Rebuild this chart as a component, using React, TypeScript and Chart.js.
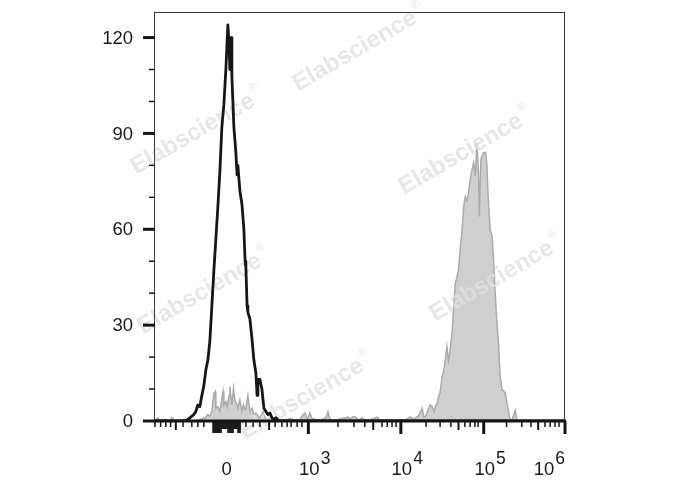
import React, { useEffect, useRef } from "react";
import { Chart, registerables } from "chart.js";

Chart.register(...registerables);

// Histogram of the unstained / control sample (black line): display channel -> event count
const controlChannels = [
  0, 77, 82, 87, 92, 97, 102, 107, 112, 117,
  122, 127, 132, 137, 142, 147, 152, 157, 162, 167,
  172, 177, 182, 185, 187, 190, 192, 197, 202, 205,
  207, 212, 217, 222, 225, 227, 230, 232, 237, 242,
  247, 252, 255, 257, 262, 267, 272, 277, 282, 287,
  292, 297, 302, 307, 312, 1024,
];
const controlCounts = [
  0, 0, 0.5, 1, 1.5, 2, 3, 5, 4.5, 8,
  11, 16, 19, 25, 36, 47, 57, 67, 78, 92,
  99, 110, 124, 118, 110, 120, 108, 92, 84, 77,
  80, 72, 68, 60, 50, 48, 36, 34, 32, 26,
  19, 15, 8, 13, 13, 10, 4, 3, 2, 2.5,
  1, 0.5, 1, 0.3, 0, 0,
];

// Histogram of the stained sample (grey filled): display channel -> event count
const stainedChannels = [
  0, 7, 12, 25, 37, 42, 50, 75, 100, 112,
  125, 132, 137, 142, 147, 150, 152, 157, 162, 167,
  170, 172, 177, 180, 185, 187, 190, 192, 196, 200,
  204, 207, 212, 217, 221, 225, 227, 232, 237, 242,
  247, 252, 257, 262, 270, 275, 282, 292, 302, 312,
  325, 337, 350, 362, 370, 375, 380, 387, 392, 407,
  417, 427, 432, 437, 452, 462, 482, 487, 495, 502,
  507, 517, 525, 537, 555, 562, 587, 612, 625, 637,
  645, 657, 662, 667, 672, 676, 682, 687, 692, 697,
  700, 705, 708, 712, 717, 720, 725, 729, 733, 737,
  742, 746, 750, 754, 758, 762, 767, 771, 775, 779,
  783, 787, 792, 796, 800, 804, 808, 810, 814, 821,
  826, 829, 832, 837, 842, 846, 850, 854, 858, 862,
  867, 870, 875, 879, 883, 887, 892, 896, 900, 904,
  1024,
];
const stainedCounts = [
  0, 1, 0, 0.5, 0, 1, 0, 0.5, 0, 0.5,
  1, 2, 1.5, 3, 8.5, 9.2, 4, 4.5, 3, 7,
  9.2, 5, 6, 4.5, 8, 10.7, 7, 5, 10.3, 6,
  5.6, 4, 6.6, 3, 5, 3.5, 4, 8, 3, 4,
  2, 2.5, 1.5, 1, 2.9, 1, 0.5, 1, 0.3, 0.5,
  0.3, 0.8, 0.3, 0.5, 2, 2.5, 0.5, 2.5, 0.8, 0.3,
  0.5, 1, 2.9, 0.5, 0.3, 0.6, 1.2, 0.6, 1.4, 1.2,
  0.3, 1, 0.3, 0.4, 1.2, 0.3, 0.3, 0.5, 0.3, 1.3,
  0.5, 1.5, 2.5, 4, 1.2, 1.4, 3.4, 5, 4.5, 3,
  4.5, 5.6, 7.6, 8.8, 13.9, 15, 19, 23.3, 19, 22,
  27.6, 35.8, 43.2, 45, 47.3, 53.6, 59.9, 67, 70.3, 69,
  71.4, 75.5, 78.7, 80.9, 76.6, 87, 77.7, 64, 82, 84,
  84, 80, 70.3, 60, 57.8, 49.4, 39, 30.6, 24.4, 13.9,
  9.7, 9.5, 8.8, 5.6, 2.9, 0.3, 0.5, 2, 3.4, 0,
  0,
];

// Y axis ticks (counts)
const yMajorTicks = [0, 30, 60, 90, 120];
const yMinorTicks = [10, 20, 40, 50, 70, 80, 100, 110];

// X axis (biexponential display, in channels)
const xLabelChannels = [179, 383, 614, 821, 1024];
const xLabelBase = ["0", "10", "10", "10", "10"];
const xLabelExponent = ["", "3", "4", "5", "6"];
const xMajorTicks = [383, 614, 821, 1024];
const xMediumTicks = [52, 285, 545, 758, 957];
const xMinorTicks = [
  0, 14, 27, 39, 70, 92, 107, 122, 227, 245, 262, 300, 317, 330, 340, 355, 367,
  457, 497, 524, 567, 580, 592, 602, 677, 712, 739, 774, 787, 799, 807,
  878, 916, 939, 974, 987, 999, 1009,
];
const xZeroLongTicks = [
  145, 147.5, 150, 152.5, 155, 157.5, 160, 162.5, 165,
  182.5, 185, 187.5, 190, 192.5, 195, 207.5, 210, 212.5,
];
const xZeroShortTicks = [167.5, 170, 172.5, 175, 177.5, 180, 197.5, 200, 202.5, 205];

const watermarkText = "Elabscience";

const FONT = '"Liberation Sans", Arial, Helvetica, sans-serif';

function drawWatermarks(ctx: CanvasRenderingContext2D) {
  const spots = [
    [360, 48],
    [198, 131],
    [466, 151],
    [205, 291],
    [497, 278],
    [307, 396],
  ];
  ctx.save();
  ctx.fillStyle = "rgba(224,224,224,0.78)";
  ctx.textBaseline = "middle";
  for (const [cx, cy] of spots) {
    ctx.save();
    ctx.translate(cx, cy);
    ctx.rotate((-30 * Math.PI) / 180);
    ctx.font = `bold 24px ${FONT}`;
    const w = ctx.measureText(watermarkText).width;
    ctx.textAlign = "left";
    ctx.fillText(watermarkText, -w / 2 - 6, 0);
    ctx.font = `11px ${FONT}`;
    ctx.fillText("®", w / 2 - 4, -10);
    ctx.restore();
  }
  ctx.restore();
}

const flowAxesPlugin = {
  id: "flowAxes",
  afterDatasetDraw(chart: any, args: any) {
    if (args.index === 1) drawWatermarks(chart.ctx);
  },
  afterDatasetsDraw(chart: any) {
    const { ctx, chartArea: a, scales } = chart;
    const x = scales.x;
    const y = scales.y;
    ctx.save();
    ctx.lineCap = "butt";

    // frame
    ctx.strokeStyle = "#3a3a3a";
    ctx.lineWidth = 1;
    ctx.strokeRect(a.left - 0.5, a.top + 0.5, a.right - a.left, a.bottom - a.top);

    // bottom axis line
    ctx.strokeStyle = "#151515";
    ctx.lineWidth = 3;
    ctx.beginPath();
    ctx.moveTo(a.left - 1, a.bottom);
    ctx.lineTo(a.right + 1, a.bottom);
    ctx.stroke();

    const vLine = (px: number, len: number, w: number) => {
      ctx.lineWidth = w;
      ctx.beginPath();
      ctx.moveTo(px, a.bottom);
      ctx.lineTo(px, a.bottom + len);
      ctx.stroke();
    };
    const hLine = (py: number, len: number, w: number) => {
      ctx.lineWidth = w;
      ctx.beginPath();
      ctx.moveTo(a.left - len, py);
      ctx.lineTo(a.left, py);
      ctx.stroke();
    };

    // y ticks
    yMajorTicks.forEach((v) => hLine(y.getPixelForValue(v), 12, 3));
    yMinorTicks.forEach((v) => hLine(y.getPixelForValue(v), 6, 1.5));

    // x ticks
    xMajorTicks.forEach((v) => vLine(x.getPixelForValue(v), 13, 3));
    xMediumTicks.forEach((v) => vLine(x.getPixelForValue(v), 9, 2));
    xMinorTicks.forEach((v) => vLine(x.getPixelForValue(v), 6, 1.5));
    xZeroLongTicks.forEach((v) => vLine(x.getPixelForValue(v), 12, 1.6));
    xZeroShortTicks.forEach((v) => vLine(x.getPixelForValue(v), 8, 1.6));

    // y labels
    ctx.fillStyle = "#1a1a1a";
    ctx.font = `18.5px ${FONT}`;
    ctx.textAlign = "right";
    ctx.textBaseline = "middle";
    yMajorTicks.forEach((v) => ctx.fillText(String(v), a.left - 22, y.getPixelForValue(v) + 1));

    // x labels
    ctx.textAlign = "left";
    const baseY = a.bottom + 49;
    const expY = a.bottom + 38;
    xLabelChannels.forEach((v, i) => {
      const px = x.getPixelForValue(v);
      ctx.font = `18.5px ${FONT}`;
      const base = xLabelBase[i];
      const exp = xLabelExponent[i];
      const wb = ctx.measureText(base).width;
      ctx.font = `17.5px ${FONT}`;
      const we = exp ? ctx.measureText(exp).width : 0;
      let start: number;
      if (!exp) start = px - wb / 2;
      else if (i === xLabelChannels.length - 1) start = px - (wb + 1 + we);
      else start = px + 1 - wb / 2;
      ctx.font = `18.5px ${FONT}`;
      ctx.fillText(base, start, baseY);
      if (exp) {
        ctx.font = `17.5px ${FONT}`;
        ctx.fillText(exp, start + wb + 1, expY);
      }
    });

    ctx.restore();
  },
};

export default function App() {
  const canvasRef = useRef<HTMLCanvasElement | null>(null);

  useEffect(() => {
    const canvas = canvasRef.current;
    if (!canvas) return;
    const chart = new Chart(canvas, {
      type: "line",
      data: {
        datasets: [
          {
            label: "Control",
            data: controlChannels.map((c, i) => ({ x: c, y: controlCounts[i] })),
            borderColor: "#161616",
            borderWidth: 2.8,
            borderJoinStyle: "round",
            pointRadius: 0,
            fill: false,
            tension: 0,
          },
          {
            label: "Stained",
            data: stainedChannels.map((c, i) => ({ x: c, y: stainedCounts[i] })),
            borderColor: "#ababab",
            backgroundColor: "#cfcfcf",
            borderWidth: 1.5,
            pointRadius: 0,
            fill: "origin",
            tension: 0,
          },
        ],
      },
      options: {
        animation: false,
        responsive: false,
        devicePixelRatio: 1,
        events: [],
        layout: { padding: { left: 155, top: 12, right: 123, bottom: 69 } },
        scales: {
          x: { type: "linear", min: 0, max: 1024, display: false },
          y: { type: "linear", min: 0, max: 128, display: false },
        },
        plugins: {
          legend: { display: false },
          tooltip: { enabled: false },
        },
      } as any,
      plugins: [flowAxesPlugin as any],
    });
    return () => chart.destroy();
  }, []);

  return (
    <div style={{ position: "fixed", left: 0, top: 0, width: 688, height: 490, background: "#fff" }}>
      <canvas ref={canvasRef} width={688} height={490} style={{ display: "block", width: 688, height: 490 }} />
    </div>
  );
}
